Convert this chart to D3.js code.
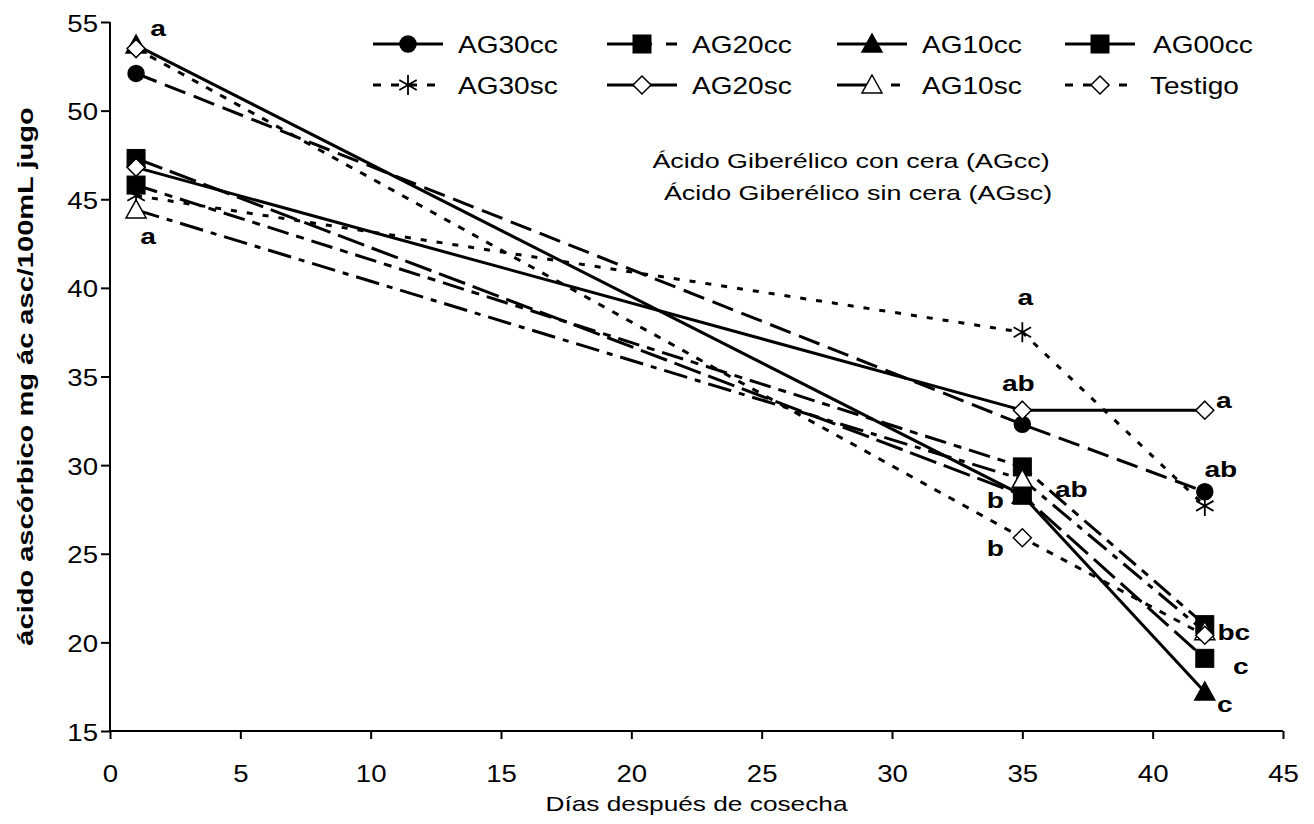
<!DOCTYPE html>
<html>
<head>
<meta charset="utf-8">
<script src="https://cdn.jsdelivr.net/npm/d3@7"></script>
<style>
  body { margin: 0; background: #fff; }
  svg text { font-family: "Liberation Sans", Arial, sans-serif; fill: #000; }
</style>
</head>
<body>
<div id="chart"></div>
<script>
// Data
const days = [1, 35, 42];
const seriesNames = ["AG30cc", "AG20cc", "AG10cc", "AG00cc", "AG30sc", "AG20sc", "AG10sc", "Testigo"];
const ag30cc = [52.1, 32.3, 28.5];
const ag20cc = [45.8, 29.9, 21.0];
const ag10cc = [53.7, 28.3, 17.2];
const ag00cc = [47.3, 28.3, 19.1];
const ag30sc = [45.2, 37.5, 27.7];
const ag20sc = [46.8, 33.1, 33.1];
const ag10sc = [44.4, 29.2, 20.6];
const testigo = [53.5, 25.9, 20.4];
const seriesValues = [ag30cc, ag20cc, ag10cc, ag00cc, ag30sc, ag20sc, ag10sc, testigo];

const xTicks = [0, 5, 10, 15, 20, 25, 30, 35, 40, 45];
const yTicks = [15, 20, 25, 30, 35, 40, 45, 50, 55];

// significance letters: [day, value, text]
const letters = [
    [1, 53.7, "a"], [1, 44.4, "a"],
    [35, 37.5, "a"], [35, 33.1, "ab"], [35, 28.3, "b"], [35, 29.2, "ab"], [35, 25.9, "b"],
    [42, 33.1, "a"], [42, 28.5, "ab"], [42, 21.0, "bc"], [42, 19.1, "c"], [42, 17.2, "c"]
];

// style per series
const styles = {
    AG30cc:  {marker: "circle",   fill: "#000", dash: "22,9",       legendDash: null},
    AG20cc:  {marker: "square",   fill: "#000", dash: "22,8,8,8",   legendDash: "45,14,12,100"},
    AG10cc:  {marker: "triangle", fill: "#000", dash: null,         legendDash: null},
    AG00cc:  {marker: "square",   fill: "#000", dash: "28,8",       legendDash: null},
    AG30sc:  {marker: "star",     fill: "none", dash: "6,10",       legendDash: "8,10"},
    AG20sc:  {marker: "diamond",  fill: "#fff", dash: null,         legendDash: null},
    AG10sc:  {marker: "triangle", fill: "#fff", dash: "24,8,6,8",   legendDash: "40,14,9,100"},
    Testigo: {marker: "diamond",  fill: "#fff", dash: "7,9",        legendDash: "8,10"}
};

// offsets for letters (pixels from the point)
const letterOffsets = [
    [22, -9], [12, 34],
    [3, -27], [-4, -19], [-27, 13], [49, 18], [-27, 18],
    [19, -2], [16, -15], [29, 15], [36, 16], [20, 20]
];

const W = 1314, H = 824;
const margin = {top: 22, right: 31, bottom: 93, left: 110};
const SX = 1.28;   // horizontal stretch of the text in the original

const svg = d3.select("#chart").append("svg")
    .attr("width", W)
    .attr("height", H);

const x = d3.scaleLinear().domain([0, 45]).range([margin.left, W - margin.right]);
const y = d3.scaleLinear().domain([15, 55]).range([H - margin.bottom, margin.top]);

// text with horizontal stretch
function wideText(parent, tx, ty, str, size, sx, anchor, bold) {
    return parent.append("text")
        .attr("transform", `translate(${tx},${ty}) scale(${sx},1)`)
        .attr("text-anchor", anchor || "start")
        .style("font-size", size + "px")
        .style("font-weight", bold ? "bold" : "normal")
        .text(str);
}

// axes
const xAxis = d3.axisBottom(x).tickValues(xTicks).tickSize(8);
const yAxis = d3.axisLeft(y).tickValues(yTicks).tickSize(9);

const gx = svg.append("g")
    .attr("transform", `translate(0, ${y(15)})`)
    .call(xAxis);
const gy = svg.append("g")
    .attr("transform", `translate(${x(0)}, 0)`)
    .call(yAxis);

[gx, gy].forEach(g => {
    g.select(".domain").attr("stroke", "#000").attr("stroke-width", 2);
    g.selectAll(".tick line").attr("stroke", "#000").attr("stroke-width", 2);
    g.selectAll(".tick text")
        .style("font-size", "24px")
        .attr("fill", "#000")
        .attr("x", null).attr("y", null).attr("dy", null);
});
gx.selectAll(".tick text").attr("transform", "translate(0,51) scale(1.15,1)");
gy.selectAll(".tick text").attr("transform", "translate(-12,9) scale(1.15,1)");
gy.select(".domain").attr("d", `M0,${y(55)}V${y(15)}`);
gx.select(".domain").attr("d", `M${x(0)},0H${x(45)}`);

// axis titles
wideText(svg, (x(0) + x(45)) / 2, 811, "Días después de cosecha", 21, 1.25, "middle");

svg.append("text")
    .attr("transform", `translate(33, ${(y(15) + y(55)) / 2}) rotate(-90) scale(1.32,1)`)
    .attr("text-anchor", "middle")
    .style("font-size", "22px")
    .style("font-weight", "bold")
    .text("ácido ascórbico mg ác asc/100mL jugo");

// marker symbol
function drawMarker(g, type, fill, cx, cy) {
    if (type === "circle") {
        g.append("circle").attr("cx", cx).attr("cy", cy).attr("r", 8)
            .attr("fill", fill).attr("stroke", "#000").attr("stroke-width", 1.5);
    } else if (type === "square") {
        g.append("rect").attr("x", cx - 9).attr("y", cy - 9).attr("width", 18).attr("height", 18)
            .attr("fill", fill).attr("stroke", "#000").attr("stroke-width", 1);
    } else if (type === "triangle") {
        g.append("path")
            .attr("d", `M${cx},${cy - 10}L${cx + 10},${cy + 8}L${cx - 10},${cy + 8}Z`)
            .attr("fill", fill).attr("stroke", "#000").attr("stroke-width", 1.5);
    } else if (type === "diamond") {
        g.append("path")
            .attr("d", `M${cx},${cy - 9}L${cx + 9},${cy}L${cx},${cy + 9}L${cx - 9},${cy}Z`)
            .attr("fill", fill).attr("stroke", "#000").attr("stroke-width", 1.5);
    } else if (type === "star") {
        let r = 10;
        g.append("path")
            .attr("d", `M${cx - r * 0.87},${cy - r * 0.5}L${cx + r * 0.87},${cy + r * 0.5}` +
                       `M${cx - r * 0.87},${cy + r * 0.5}L${cx + r * 0.87},${cy - r * 0.5}` +
                       `M${cx},${cy - r}L${cx},${cy + r}`)
            .attr("fill", "none").attr("stroke", "#000").attr("stroke-width", 1.8);
    }
}

const line = d3.line()
    .x(d => x(d[0]))
    .y(d => y(d[1]));

const plot = svg.append("g").attr("class", "plot");

seriesNames.forEach((name, i) => {
    let st = styles[name];
    let pts = days.map((d, j) => [d, seriesValues[i][j]]);
    plot.append("path")
        .datum(pts)
        .attr("d", line)
        .attr("fill", "none")
        .attr("stroke", "#000")
        .attr("stroke-width", 3)
        .attr("stroke-dasharray", st.dash);
});

seriesNames.forEach((name, i) => {
    let st = styles[name];
    let g = plot.append("g");
    days.forEach((d, j) => drawMarker(g, st.marker, st.fill, x(d), y(seriesValues[i][j])));
});

// letters
letters.forEach((l, i) => {
    wideText(svg, x(l[0]) + letterOffsets[i][0], y(l[1]) + letterOffsets[i][1],
        l[2], 22, SX, "middle", true);
});

// annotation
wideText(svg, 851, 168, "Ácido Giberélico con cera (AGcc)", 21, SX, "middle");
wideText(svg, 858, 200, "Ácido Giberélico sin cera  (AGsc)", 21, SX, "middle");

// legend
const legendMarkX = [408, 642, 872, 1100];
const legendRows = [44, 85];
const legend = svg.append("g").attr("class", "legend");
seriesNames.forEach((name, i) => {
    let st = styles[name];
    let mx = legendMarkX[i % 4], ly = legendRows[Math.floor(i / 4)];
    legend.append("line")
        .attr("x1", mx - 35).attr("x2", mx + 35)
        .attr("y1", ly).attr("y2", ly)
        .attr("stroke", "#000").attr("stroke-width", 3)
        .attr("stroke-dasharray", st.legendDash);
    drawMarker(legend, st.marker, st.fill, mx, ly);
    wideText(legend, mx + 50 + (name === "AG00cc" ? 3 : 0), ly + 9, name, 23, 1.22, "start");
});
</script>
</body>
</html>
